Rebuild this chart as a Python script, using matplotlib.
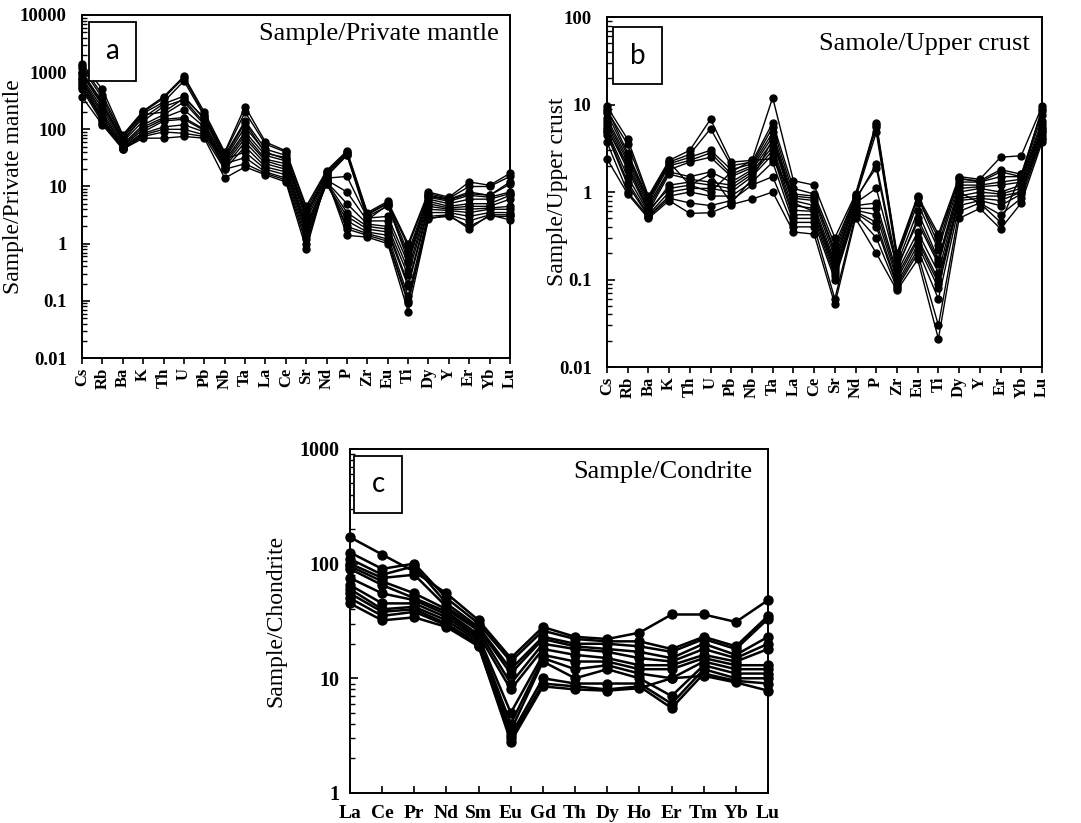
import matplotlib
matplotlib.use("Agg")
import matplotlib.pyplot as plt
from matplotlib.patches import Rectangle
from matplotlib.ticker import FixedLocator, LogLocator, NullFormatter

# --- panel a: sample / primitive mantle ---
elems_ab = ["Cs", "Rb", "Ba", "K", "Th", "U", "Pb", "Nb", "Ta", "La", "Ce",
            "Sr", "Nd", "P", "Zr", "Eu", "Ti", "Dy", "Y", "Er", "Yb", "Lu"]

pm_1 = [1400, 500, 80, 210, 370, 850, 200, 40, 250, 60, 42, 4.5, 19, 42, 3.5, 5.5, 1.0, 8, 6.5, 12, 10.5, 17]
pm_2 = [1200, 350, 70, 190, 300, 700, 170, 35, 140, 45, 35, 3.5, 17, 38, 3.2, 5.0, 0.7, 7, 6, 8, 7, 12]
pm_3 = [1000, 300, 65, 160, 280, 380, 150, 30, 110, 40, 30, 3.0, 15, 35, 3.0, 4.5, 0.6, 6.5, 5.5, 7, 6.5, 8]
pm_4 = [900, 260, 60, 140, 250, 330, 130, 28, 90, 35, 28, 2.6, 14, 15, 2.8, 3.0, 0.45, 6, 5, 6, 6, 7.5]
pm_5 = [800, 230, 55, 120, 180, 300, 120, 26, 80, 30, 25, 2.2, 13, 8, 2.5, 2.5, 0.35, 5.5, 4.5, 5, 5, 7]
pm_6 = [750, 200, 52, 110, 160, 220, 110, 24, 70, 28, 22, 2.0, 12, 5, 2.2, 2.0, 0.28, 5, 4.2, 4.5, 4.5, 6]
pm_7 = [700, 180, 50, 100, 150, 160, 100, 22, 60, 25, 20, 1.8, 12, 3.5, 2.0, 1.8, 0.2, 4.5, 4, 4, 4.2, 4.5]
pm_8 = [650, 160, 48, 90, 140, 150, 95, 20, 50, 22, 18, 1.6, 11, 3, 1.8, 1.6, 0.18, 4, 3.8, 3.5, 4, 4]
pm_9 = [600, 150, 47, 85, 110, 120, 90, 30, 40, 20, 16, 1.4, 11, 2.5, 1.6, 1.4, 0.12, 3.5, 3.5, 3, 3.5, 3.5]
pm_10 = [550, 140, 46, 80, 100, 100, 80, 25, 32, 18, 14, 1.2, 12, 2, 1.5, 1.2, 0.1, 3, 3.2, 2.5, 3.2, 3.2]
pm_11 = [500, 130, 45, 75, 90, 85, 75, 20, 25, 17, 13, 1.0, 13, 1.8, 1.4, 1.1, 0.09, 2.8, 3, 2, 3, 3]
pm_12 = [370, 120, 45, 70, 70, 75, 70, 14, 22, 16, 12, 0.8, 14, 1.4, 1.3, 1.0, 0.065, 2.7, 3.2, 1.8, 3.2, 2.6]
pm_13 = [1300, 400, 75, 200, 350, 800, 180, 38, 200, 55, 40, 4.0, 18, 40, 3.3, 5.2, 0.9, 7.5, 6.2, 10, 10, 15]
pm_14 = [950, 280, 62, 180, 200, 350, 160, 32, 130, 38, 32, 3.2, 16, 36, 2.6, 4.8, 0.5, 6.8, 5.8, 7.5, 7, 11]
series_a = [pm_1, pm_2, pm_3, pm_4, pm_5, pm_6, pm_7, pm_8, pm_9, pm_10, pm_11, pm_12, pm_13, pm_14]

# --- panel b: sample / upper crust ---
uc_1 = [9.5, 4, 0.9, 2.3, 3, 6.8, 2.2, 2.3, 12, 1.35, 1.2, 0.3, 0.95, 6.2, 0.2, 0.9, 0.33, 1.5, 1.4, 2.5, 2.6, 9.5]
uc_2 = [8.5, 3.5, 0.85, 2.2, 2.7, 5.3, 2.0, 2.2, 6.2, 1.1, 0.95, 0.25, 0.9, 5.5, 0.18, 0.85, 0.3, 1.4, 1.35, 1.8, 1.6, 8.5]
uc_3 = [8, 2.6, 0.8, 2.1, 2.5, 3.0, 1.8, 2.1, 5.5, 0.95, 0.9, 0.2, 0.85, 4.8, 0.17, 0.75, 0.22, 1.3, 1.3, 1.5, 1.5, 7.5]
uc_4 = [7, 2.4, 0.75, 2.0, 2.3, 2.8, 1.6, 2.0, 4.8, 0.85, 0.8, 0.18, 0.8, 2.1, 0.15, 0.6, 0.17, 1.2, 1.2, 1.3, 1.4, 6.5]
uc_5 = [6.5, 2.2, 0.7, 1.8, 2.2, 2.5, 1.5, 1.9, 4.3, 0.8, 0.7, 0.16, 0.75, 1.1, 0.14, 0.45, 0.15, 1.1, 1.15, 1.2, 1.3, 6]
uc_6 = [6, 2.0, 0.65, 1.7, 1.5, 1.7, 1.3, 1.8, 3.8, 0.7, 0.65, 0.14, 0.7, 0.75, 0.12, 0.35, 0.12, 1.0, 1.1, 1.0, 1.2, 5.5]
uc_7 = [5.5, 1.8, 0.6, 1.6, 1.4, 1.3, 1.2, 1.7, 3.3, 0.62, 0.6, 0.13, 0.65, 0.65, 0.11, 0.3, 0.1, 0.9, 1.0, 0.95, 1.1, 5.2]
uc_8 = [5, 1.5, 0.58, 1.2, 1.3, 1.2, 1.1, 1.6, 3.0, 0.55, 0.55, 0.12, 0.62, 0.55, 0.1, 0.28, 0.09, 0.85, 0.9, 0.9, 1.0, 5]
uc_9 = [4.8, 1.3, 0.55, 1.0, 1.1, 1.1, 1.0, 1.5, 2.7, 0.5, 0.5, 0.11, 0.6, 0.45, 0.09, 0.25, 0.08, 0.8, 0.85, 0.8, 1.0, 4.5]
uc_10 = [4.5, 1.2, 0.53, 0.9, 1.0, 0.9, 0.9, 1.3, 2.2, 0.45, 0.45, 0.1, 0.58, 0.4, 0.085, 0.22, 0.06, 0.7, 0.8, 0.7, 0.95, 4.2]
uc_11 = [3.7, 1.0, 0.52, 0.85, 0.75, 0.7, 0.8, 1.2, 1.5, 0.4, 0.4, 0.06, 0.55, 0.3, 0.08, 0.2, 0.03, 0.6, 0.75, 0.55, 0.85, 4]
uc_12 = [2.4, 0.95, 0.5, 0.8, 0.57, 0.58, 0.72, 0.83, 1.0, 0.35, 0.33, 0.052, 0.5, 0.2, 0.075, 0.17, 0.021, 0.5, 0.65, 0.38, 0.75, 3.7]
uc_13 = [9, 2.8, 0.82, 2.2, 1.2, 1.0, 1.7, 2.3, 2.4, 0.9, 0.85, 0.22, 0.9, 5.9, 0.19, 0.88, 0.25, 1.45, 1.3, 1.7, 1.5, 9]
uc_14 = [5.2, 2.0, 0.62, 1.1, 1.2, 1.6, 0.75, 1.4, 4.0, 0.75, 0.6, 0.15, 0.85, 1.9, 0.13, 0.5, 0.16, 1.0, 0.75, 0.45, 1.6, 4.8]
series_b = [uc_1, uc_2, uc_3, uc_4, uc_5, uc_6, uc_7, uc_8, uc_9, uc_10, uc_11, uc_12, uc_13, uc_14]

# --- panel c: sample / chondrite (REE) ---
elems_c = ["La", "Ce", "Pr", "Nd", "Sm", "Eu", "Gd", "Th", "Dy", "Ho", "Er", "Tm", "Yb", "Lu"]

ch_1 = [170, 120, 85, 55, 32, 15, 28, 23, 22, 25, 36, 36, 31, 48]
ch_2 = [125, 90, 100, 50, 30, 14, 26, 22, 21, 21, 18, 23, 19, 35]
ch_3 = [110, 80, 95, 45, 28, 12, 23, 20, 20, 19, 17, 22, 18, 33]
ch_4 = [100, 75, 80, 42, 27, 11, 22, 19, 18, 17, 15, 20, 16, 23]
ch_5 = [95, 70, 55, 40, 26, 9, 20, 18, 17, 15, 14, 18, 15, 20]
ch_6 = [90, 65, 50, 38, 24, 8, 18, 16, 15, 13, 13, 16, 14, 18]
ch_7 = [75, 55, 48, 36, 23, 5, 16, 14, 14, 12, 12, 15, 13, 13]
ch_8 = [65, 45, 45, 34, 22, 4, 15, 12, 13, 11, 10, 14, 12, 12]
ch_9 = [60, 40, 42, 32, 21, 3.5, 14, 10, 12, 10, 7, 13, 11, 11]
ch_10 = [55, 38, 40, 30, 20, 3.2, 10, 9, 9, 9, 6, 12, 10, 10]
ch_11 = [50, 35, 38, 29, 19, 3.0, 9, 8.5, 8, 8.5, 5.5, 11, 9.5, 9]
ch_12 = [45, 32, 34, 28, 19, 2.8, 8.5, 8, 7.8, 8.2, 10, 10.5, 9.2, 7.8]
series_c = [ch_1, ch_2, ch_3, ch_4, ch_5, ch_6, ch_7, ch_8, ch_9, ch_10, ch_11, ch_12]

SERIF = "Liberation Serif"
SANS = "Lato"


def spider(ax, elems, series, ylim, yticks, ylabel, title, letter, lw, ms,
           rotate, title_xy, label_x, box, ytick_fs, ytick_pad):
    x = list(range(len(elems)))
    for s in series:
        ax.plot(x, s, color="black", lw=lw, marker="o", ms=ms, clip_on=False, zorder=3)
    ax.set_yscale("log")
    ax.set_ylim(*ylim)
    ax.set_xlim(0, len(elems) - 1)

    ax.yaxis.set_major_locator(FixedLocator(yticks))
    ax.yaxis.set_minor_locator(LogLocator(base=10, subs=range(2, 10), numticks=100))
    ax.yaxis.set_minor_formatter(NullFormatter())
    ax.set_yticklabels([f"{t:g}" for t in yticks], fontfamily=SERIF,
                       fontweight="bold", fontsize=ytick_fs)
    ax.tick_params(axis="y", which="major", direction="in", length=6, width=1.2, pad=ytick_pad)
    ax.tick_params(axis="y", which="minor", direction="in", length=3.5, width=1)

    ax.set_xticks(x)
    if rotate:
        ax.set_xticklabels(elems, rotation=90, fontfamily=SERIF, fontweight="bold", fontsize=12)
        ax.tick_params(axis="x", direction="out", length=4, width=1.2, pad=3)
    else:
        ax.set_xticklabels(elems, fontfamily=SERIF, fontweight="bold", fontsize=14)
        ax.tick_params(axis="x", direction="in", length=5, width=1.2, pad=9)
    ax.tick_params(top=False, right=False)

    for sp in ax.spines.values():
        sp.set_linewidth(1.4)

    ax.set_ylabel(ylabel, fontfamily=SERIF, fontsize=17)
    ax.yaxis.set_label_coords(label_x, 0.5)
    ax.text(title_xy[0], title_xy[1], title, transform=ax.transAxes, ha="right",
            va="center", fontfamily=SERIF, fontsize=19)

    bx, by, bw, bh = box
    ax.add_patch(Rectangle((bx, by), bw, bh, transform=ax.transAxes, fill=True,
                           facecolor="white", edgecolor="black", lw=1.3, zorder=5))
    ax.text(bx + bw / 2, by + bh / 2, letter, transform=ax.transAxes, ha="center",
            va="center", fontfamily=SANS, fontsize=20, zorder=6)


fig = plt.figure(figsize=(10.81, 8.23), dpi=100)

ax_a = fig.add_axes([0.0759, 0.565, 0.3959, 0.4168])
spider(ax_a, elems_ab, series_a, (0.01, 10000), [0.01, 0.1, 1, 10, 100, 1000, 10000],
       "Sample/Private mantle", "Sample/Private mantle", "a", 1.0, 5, True,
       (0.975, 0.945), -0.135, (0.016, 0.808, 0.11, 0.172), 13.5, 11)

ax_b = fig.add_axes([0.5615, 0.554, 0.4024, 0.4253])
spider(ax_b, elems_ab, series_b, (0.01, 100), [0.01, 0.1, 1, 10, 100],
       "Sample/Upper crust", "Samole/Upper crust", "b", 1.0, 5, True,
       (0.972, 0.923), -0.09, (0.014, 0.809, 0.113, 0.162), 13.5, 11)

ax_c = fig.add_axes([0.3238, 0.0365, 0.3867, 0.418])
spider(ax_c, elems_c, series_c, (1, 1000), [1, 10, 100, 1000],
       "Sample/Chondrite", "Sample/Condrite", "c", 1.8, 6.5, False,
       (0.962, 0.933), -0.153, (0.01, 0.814, 0.115, 0.166), 14.5, 8)

fig.savefig("out.png", dpi=100, facecolor="white")
